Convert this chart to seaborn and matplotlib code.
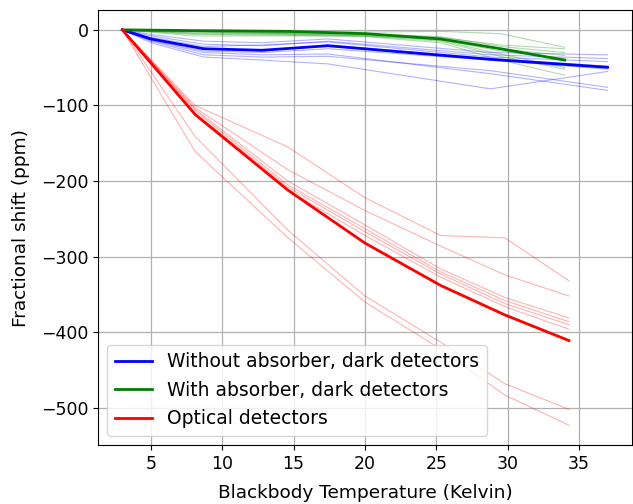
import matplotlib
matplotlib.use("Agg")
import matplotlib.pyplot as plt
import seaborn as sns
import numpy as np

# ---- data ----
x_blue = [3, 5, 8.7, 12.8, 17.4, 28.8, 37]
blue_thin = [
    [0, -6, -15, -17, -12, -30, -33],
    [0, -8, -19, -21, -15, -33, -38],
    [0, -10, -22, -20, -16, -36, -42],
    [0, -12, -25, -28, -20, -38, -48],
    [0, -13, -28, -30, -25, -40, -52],
    [0, -14, -30, -33, -32, -58, -80],
    [0, -15, -33, -36, -35, -54, -76],
    [0, -17, -36, -40, -45, -78, -55],
]
blue_mean = [0, -12, -25, -27, -21, -39, -49.5]

x_green = [3, 8, 14.5, 20, 25.3, 29.5, 34]
green_thin = [
    [0, -1, -2, -3, -2, -5, -23],
    [0, -3, -5, -6, -10, -20, -25],
    [0, -2, -4, -5, -9, -22, -30],
    [0, -5, -6, -7, -12, -25, -34],
    [0, -8, -8, -8, -13, -28, -38],
    [0, -2, -3, -5, -14, -32, -50],
    [0, -4, -5, -8, -15, -35, -52],
    [0, -6, -7, -9, -17, -40, -60],
]
green_mean = [0, -1, -2, -5, -12, -25, -40]

x_red = [3, 8.1, 14.6, 20, 25.3, 29.8, 34.3]
red_thin = [
    [0, -100, -155, -222, -272, -275, -332],
    [0, -103, -185, -239, -286, -324, -352],
    [0, -105, -200, -258, -316, -354, -381],
    [0, -107, -205, -263, -320, -358, -386],
    [0, -110, -208, -267, -323, -362, -390],
    [0, -112, -212, -272, -327, -366, -396],
    [0, -141, -265, -352, -413, -468, -502],
    [0, -161, -275, -360, -422, -483, -523],
]
red_mean = [0, -112, -212, -282, -338, -377, -411]

labels = ["Without absorber, dark detectors",
          "With absorber, dark detectors",
          "Optical detectors"]
colors = ["blue", "green", "red"]

# ---- plot ----
fig = plt.figure(figsize=(6.33, 5.04), dpi=100)
ax = fig.add_axes([0.155, 0.117, 0.843, 0.863])

groups = [(x_blue, blue_thin, blue_mean), (x_green, green_thin, green_mean),
          (x_red, red_thin, red_mean)]
handles = []
for (xs, thin, mean), c, lab in zip(groups, colors, labels):
    for ys in thin:
        sns.lineplot(x=xs, y=ys, color=c, lw=0.8, alpha=0.3, ax=ax,
                     estimator=None, sort=False)
for (xs, thin, mean), c, lab in zip(groups, colors, labels):
    sns.lineplot(x=xs, y=mean, color=c, lw=2, ax=ax, estimator=None, sort=False)
    handles.append(ax.lines[-1])

ax.grid(True, color="#b0b0b0", lw=0.9)
ax.set_axisbelow(True)
ax.set_xlabel("Blackbody Temperature (Kelvin)", fontsize=13.3, labelpad=8)
ax.set_ylabel("Fractional shift (ppm)", fontsize=13.3, labelpad=8)
ax.tick_params(labelsize=12.5)
ax.set_xticks([5, 10, 15, 20, 25, 30, 35])
ax.set_yticks([0, -100, -200, -300, -400, -500])
ax.legend(handles, labels, loc="lower left", fontsize=13.5)

fig.savefig("out.png", dpi=100)
